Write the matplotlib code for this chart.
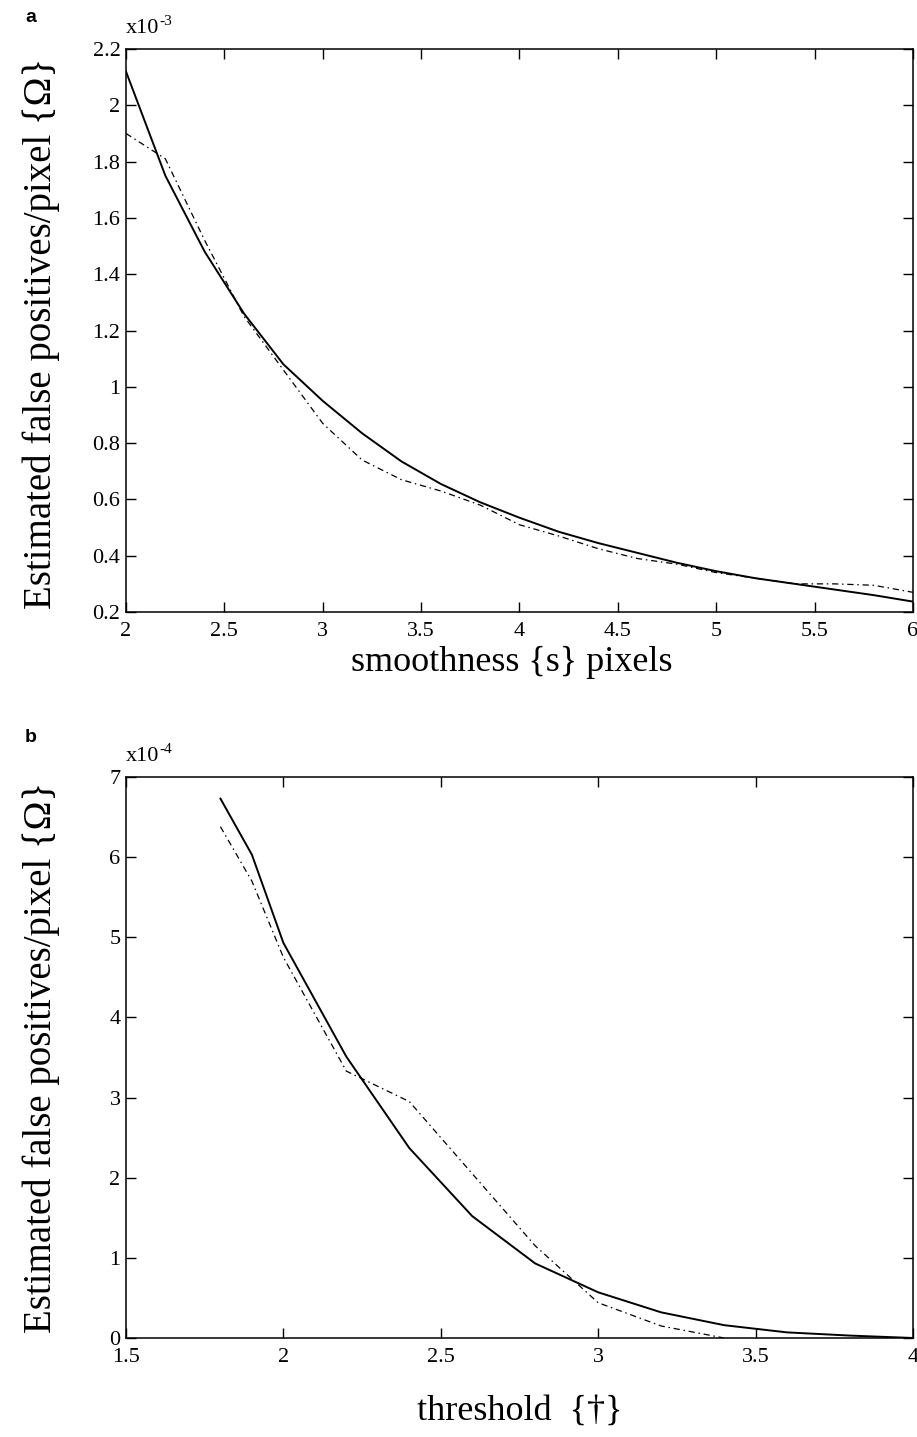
import matplotlib
matplotlib.use("Agg")
import matplotlib.pyplot as plt

plt.rcParams['font.family'] = ['Liberation Serif', 'DejaVu Serif']

# Panel a data (values x1e-3)
s_vals = [2.0, 2.2, 2.4, 2.6, 2.8, 3.0, 3.2, 3.4, 3.6, 3.8, 4.0,
          4.2, 4.4, 4.6, 4.8, 5.0, 5.2, 5.4, 5.6, 5.8, 6.0]
a_solid = [2.12, 1.75, 1.48, 1.26, 1.08, 0.95, 0.835, 0.735, 0.655, 0.59, 0.535,
           0.485, 0.445, 0.41, 0.375, 0.345, 0.32, 0.30, 0.28, 0.26, 0.237]
a_dash = [1.90, 1.81, 1.52, 1.25, 1.06, 0.87, 0.74, 0.67, 0.63, 0.58, 0.51,
          0.47, 0.425, 0.39, 0.37, 0.34, 0.32, 0.30, 0.30, 0.295, 0.27]
a_xticks = [2, 2.5, 3, 3.5, 4, 4.5, 5, 5.5, 6]
a_xlabels = ['2', '2.5', '3', '3.5', '4', '4.5', '5', '5.5', '6']
a_yticks = [0.2, 0.4, 0.6, 0.8, 1.0, 1.2, 1.4, 1.6, 1.8, 2.0, 2.2]
a_ylabels = ['0.2', '0.4', '0.6', '0.8', '1', '1.2', '1.4', '1.6', '1.8', '2', '2.2']

# Panel b data (values x1e-4)
t_solid_x = [1.8, 1.9, 2.0, 2.2, 2.4, 2.6, 2.8, 3.0, 3.2, 3.4, 3.6, 3.8, 4.0]
b_solid = [6.73, 6.03, 4.93, 3.51, 2.37, 1.52, 0.93, 0.57, 0.32, 0.16, 0.07, 0.03, 0.0]
t_dash_x = [1.8, 1.9, 2.0, 2.2, 2.4, 2.6, 2.8, 3.0, 3.2, 3.4]
b_dash = [6.38, 5.70, 4.75, 3.33, 2.95, 2.05, 1.15, 0.44, 0.15, 0.0]
b_xticks = [1.5, 2, 2.5, 3, 3.5, 4]
b_xlabels = ['1.5', '2', '2.5', '3', '3.5', '4']
b_yticks = [0, 1, 2, 3, 4, 5, 6, 7]
b_ylabels = ['0', '1', '2', '3', '4', '5', '6', '7']

fig = plt.figure(figsize=(9.17, 14.37), dpi=100)
ax1 = fig.add_axes([0.1374, 0.5741, 0.8582, 0.3918])
ax2 = fig.add_axes([0.1374, 0.0689, 0.8582, 0.3904])

dash_style = (0, (5, 3, 1.2, 3))

def style(ax, xt, xl, yt, yl, xlim, ylim):
    ax.set_xlim(*xlim)
    ax.set_ylim(*ylim)
    ax.set_xticks(xt)
    ax.set_xticklabels(xl)
    ax.set_yticks(yt)
    ax.set_yticklabels(yl)
    ax.tick_params(direction='in', top=True, right=True, length=7, width=1,
                   labelsize=16)
    ax.tick_params(axis='x', pad=7)
    ax.tick_params(axis='y', pad=4)
    for sp in ax.spines.values():
        sp.set_linewidth(1.1)

def multiplier(ax, exp_text):
    t = ax.text(0.0, 1.028, 'x10', transform=ax.transAxes,
                fontsize=16, ha='left', va='baseline')
    ax.annotate(exp_text, xy=(1.0, 0.55), xycoords=t, fontsize=11,
                ha='left', va='bottom')

ax1.plot(s_vals, a_solid, color='black', lw=1.4)
ax1.plot(s_vals, a_dash, color='black', lw=0.9, linestyle=dash_style)
style(ax1, a_xticks, a_xlabels, a_yticks, a_ylabels, (2, 6), (0.2, 2.2))
ax1.set_xlabel('smoothness {s} pixels', fontsize=26, va='top')
ax1.xaxis.set_label_coords(0.49, -0.06)
ax1.set_ylabel('Estimated false positives/pixel {Ω}', fontsize=28)
ax1.yaxis.set_label_coords(-0.084, 0.495)
multiplier(ax1, '-3')

ax2.plot(t_solid_x, b_solid, color='black', lw=1.4)
ax2.plot(t_dash_x, b_dash, color='black', lw=0.9, linestyle=dash_style)
style(ax2, b_xticks, b_xlabels, b_yticks, b_ylabels, (1.5, 4), (0, 7))
ax2.set_xlabel('threshold  {†}', fontsize=26, va='top')
ax2.xaxis.set_label_coords(0.5, -0.102)
ax2.set_ylabel('Estimated false positives/pixel {Ω}', fontsize=28)
ax2.yaxis.set_label_coords(-0.084, 0.5)
multiplier(ax2, '-4')

fig.text(31/917, 1 - 18/1437, 'a', fontsize=14, fontweight='bold',
         family='Liberation Sans', ha='center', va='center')
fig.text(31/917, 1 - 737/1437, 'b', fontsize=14, fontweight='bold',
         family='Liberation Sans', ha='center', va='center')

fig.savefig('out.png', dpi=100)
